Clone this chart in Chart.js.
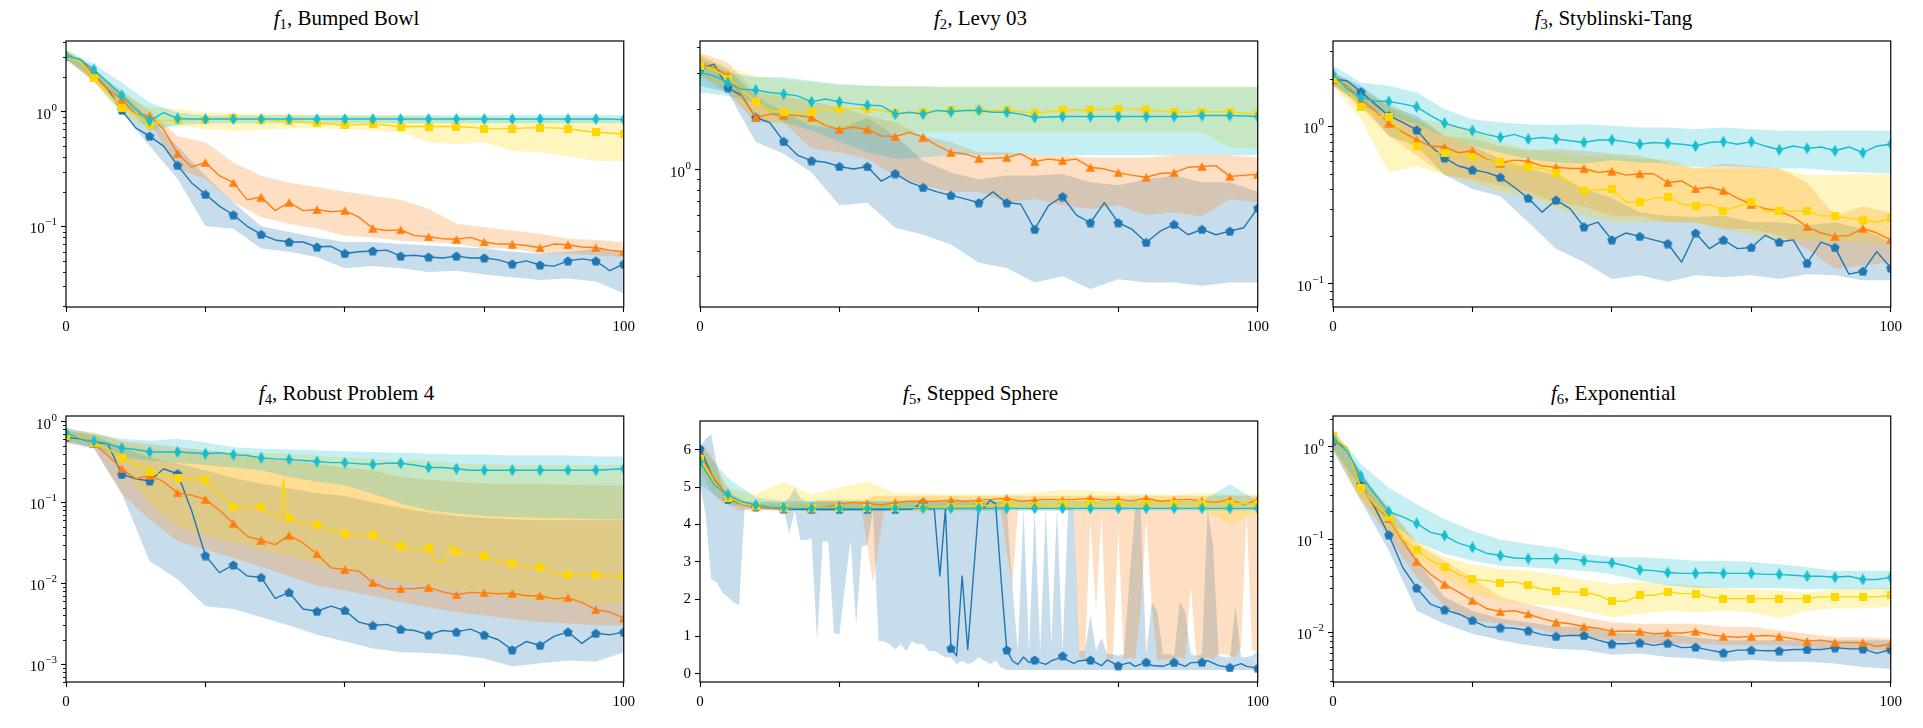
<!DOCTYPE html>
<html><head><meta charset="utf-8">
<script src="https://cdn.jsdelivr.net/npm/chart.js@4.4.1/dist/chart.umd.min.js"></script>
<style>
html,body{margin:0;padding:0;background:#fff;width:1923px;height:728px;overflow:hidden;}
canvas{position:absolute;}
.title{position:absolute;font-family:"Liberation Serif","DejaVu Serif",serif;font-size:21px;line-height:22px;color:#000;white-space:nowrap;transform:translateX(-50%);}
.title sub{font-size:70%;vertical-align:-0.3em;line-height:0;}
</style></head><body>
<script>
// ---------- x grids (iterations) ----------
const X_MEAN = [0,2.5,5,7.5,10,12.5,15,17.5,20,22.5,25,27.5,30,32.5,35,37.5,40,42.5,45,47.5,50,52.5,55,57.5,60,62.5,65,67.5,70,72.5,75,77.5,80,82.5,85,87.5,90,92.5,95,97.5,100];
const X_BAND = [0,5,10,15,20,25,30,35,40,45,50,55,60,65,70,75,80,85,90,95,100];
const X_FINE = [0,1,2,3,4,5,6,7,8,9,10,11,12,13,14,15,16,17,18,19,20,21,22,23,24,25,26,27,28,29,30,31,32,33,34,35,36,37,38,39,40,41,42,43,44,45,46,47,48,49,50,51,52,53,54,55,56,57,58,59,60,61,62,63,64,65,66,67,68,69,70,71,72,73,74,75,76,77,78,79,80,81,82,83,84,85,86,87,88,89,90,91,92,93,94,95,96,97,98,99,100];
const F4_YELLOW_X = [0,2.5,5,7.5,10,12.5,15,17.5,20,22.5,25,27.5,30,32.5,35,37.5,38.5,39,39.7,40,42.5,45,47.5,50,52.5,55,57.5,60,62.5,65,66.3,68,69,70,72.5,75,77.5,80,82.5,85,87.5,90,92.5,95,97.5,100];
const F5_BLUE_X = [0,2.5,5,7.5,10,12.5,15,20,25,30,35,38,40,41,42,43,44,45,46,47,48,49,50,51,52,53,54,55,56,57,58,59,60,61,62,63,64,65,66,67,68,70,72,73,75,77,78,80,81,83,85,87,88,90,91,93,95,97,98,100];

// ---------- f1 Bumped Bowl ----------
const f1BlueMean = [3.05,2.85,2.11,1.56,1.03,0.72,0.61,0.50,0.34,0.24,0.19,0.15,0.126,0.10,0.085,0.076,0.073,0.073,0.066,0.067,0.058,0.06,0.061,0.062,0.055,0.056,0.054,0.053,0.055,0.053,0.053,0.051,0.047,0.05,0.046,0.045,0.05,0.052,0.05,0.041,0.047];
const f1OrangeMean = [3.05,2.85,2.11,1.56,1.28,0.95,0.92,0.70,0.43,0.33,0.36,0.276,0.24,0.17,0.18,0.137,0.162,0.137,0.14,0.134,0.137,0.12,0.096,0.092,0.093,0.083,0.081,0.078,0.077,0.08,0.073,0.07,0.07,0.068,0.065,0.07,0.069,0.066,0.065,0.062,0.06];
const f1YellowMean = [3.05,2.76,1.98,1.46,1.08,0.95,0.76,0.83,0.85,0.85,0.85,0.87,0.87,0.86,0.85,0.84,0.82,0.81,0.79,0.78,0.76,0.77,0.78,0.76,0.74,0.74,0.74,0.74,0.74,0.73,0.71,0.71,0.71,0.72,0.72,0.72,0.71,0.68,0.66,0.65,0.635];
const f1CyanMean = [3.05,2.85,2.33,1.79,1.39,1.05,0.83,0.98,0.87,0.86,0.86,0.86,0.86,0.86,0.86,0.86,0.86,0.86,0.86,0.86,0.86,0.86,0.86,0.86,0.86,0.86,0.86,0.86,0.86,0.86,0.86,0.86,0.86,0.86,0.86,0.86,0.86,0.86,0.86,0.86,0.85];
const f1BlueHi = [3.37,2.33,1.46,0.86,0.50,0.276,0.162,0.10,0.089,0.08,0.073,0.073,0.07,0.068,0.066,0.064,0.06,0.058,0.06,0.064,0.06];
const f1BlueLo = [2.85,1.85,0.98,0.50,0.26,0.10,0.095,0.064,0.06,0.054,0.043,0.045,0.043,0.04,0.041,0.038,0.036,0.034,0.035,0.033,0.026];
const f1OrangeHi = [3.37,2.33,1.51,1.01,0.61,0.54,0.36,0.276,0.24,0.22,0.20,0.185,0.17,0.142,0.105,0.098,0.092,0.086,0.078,0.076,0.073];
const f1OrangeLo = [2.85,1.85,1.08,0.80,0.315,0.26,0.162,0.12,0.105,0.095,0.083,0.08,0.075,0.073,0.07,0.064,0.064,0.058,0.058,0.056,0.054];
const f1YellowHi = [3.37,2.33,1.46,1.08,1.05,0.98,0.97,0.95,0.95,0.93,0.92,0.92,0.92,0.905,0.89,0.89,0.87,0.86,0.86,0.86,0.86];
const f1YellowLo = [2.85,1.79,0.95,0.72,0.75,0.70,0.68,0.69,0.71,0.72,0.70,0.68,0.66,0.54,0.52,0.54,0.455,0.44,0.41,0.37,0.37];
const f1CyanHi = [3.48,2.58,1.79,1.20,0.98,0.92,0.93,0.93,0.93,0.93,0.93,0.93,0.93,0.93,0.93,0.93,0.93,0.93,0.93,0.93,0.93];
const f1CyanLo = [2.85,1.98,1.20,0.68,0.76,0.79,0.79,0.79,0.79,0.79,0.79,0.79,0.79,0.79,0.79,0.79,0.79,0.79,0.79,0.79,0.79];

// ---------- f2 Levy 03 ----------
const f2BlueMean = [3.13,3.31,2.54,2.31,1.81,1.71,1.38,1.18,1.11,1.09,1.04,1.01,1.04,0.88,0.96,0.87,0.82,0.78,0.75,0.72,0.69,0.78,0.69,0.68,0.51,0.67,0.74,0.60,0.55,0.69,0.55,0.51,0.44,0.50,0.54,0.48,0.51,0.48,0.50,0.52,0.65];
const f2OrangeMean = [3.31,3.19,2.90,2.31,1.81,1.88,1.86,1.85,1.81,1.65,1.58,1.62,1.58,1.47,1.46,1.53,1.45,1.32,1.22,1.20,1.14,1.14,1.15,1.20,1.10,1.13,1.11,1.13,1.03,1.01,0.97,0.94,0.92,0.96,0.97,1.03,1.04,1.05,0.93,0.94,0.95];
const f2YellowMean = [3.25,3.13,2.79,2.49,2.16,1.96,1.92,1.92,1.93,1.99,1.99,2.00,2.00,1.96,1.90,1.91,1.92,1.95,1.97,1.96,1.96,1.96,1.96,1.93,1.90,1.93,1.96,1.97,1.97,1.99,2.00,1.99,1.97,1.95,1.92,1.92,1.93,1.93,1.93,1.90,1.88];
const f2CyanMean = [3.01,2.90,2.69,2.49,2.47,2.40,2.36,2.31,2.16,2.23,2.16,2.11,2.08,2.07,1.88,1.92,1.88,1.96,1.93,1.96,1.96,1.92,1.92,1.88,1.81,1.82,1.83,1.83,1.83,1.83,1.83,1.83,1.83,1.83,1.83,1.83,1.85,1.85,1.85,1.84,1.83];
const f2BlueHi = [3.63,3.13,2.31,1.92,1.65,1.59,1.81,1.47,1.11,0.97,0.90,0.94,0.94,0.955,0.87,0.84,0.90,0.94,0.87,0.87,0.78];
const f2BlueLo = [2.59,2.40,1.37,1.20,0.97,0.67,0.69,0.52,0.48,0.43,0.35,0.33,0.28,0.30,0.26,0.29,0.28,0.28,0.27,0.28,0.28];
const f2OrangeHi = [3.77,3.37,2.40,2.31,2.17,2.03,1.85,1.71,1.47,1.37,1.22,1.22,1.18,1.18,1.15,1.15,1.15,1.18,1.18,1.18,1.15];
const f2OrangeLo = [2.90,2.40,1.71,1.71,1.27,1.22,1.13,0.94,0.84,0.78,0.78,0.69,0.72,0.67,0.64,0.67,0.60,0.62,0.59,0.72,0.69];
const f2YellowHi = [3.70,3.19,2.90,2.79,2.69,2.61,2.59,2.59,2.57,2.57,2.57,2.57,2.57,2.57,2.57,2.57,2.57,2.57,2.57,2.57,2.57];
const f2YellowLo = [2.90,2.45,1.78,1.68,1.65,1.56,1.53,1.53,1.53,1.53,1.53,1.53,1.53,1.53,1.53,1.53,1.53,1.53,1.53,1.29,1.27];
const f2CyanHi = [3.50,3.01,2.85,2.85,2.74,2.64,2.59,2.57,2.57,2.55,2.55,2.55,2.55,2.55,2.55,2.55,2.55,2.55,2.55,2.55,2.55];
const f2CyanLo = [2.40,2.31,2.15,1.71,1.56,1.37,1.22,1.13,1.15,1.18,1.18,1.18,1.18,1.18,1.18,1.18,1.18,1.18,1.18,1.18,1.18];

// ---------- f3 Styblinski-Tang ----------
const f3BlueMean = [2.00,1.95,1.66,1.39,1.17,1.06,0.95,0.75,0.63,0.56,0.53,0.51,0.475,0.41,0.35,0.285,0.34,0.30,0.23,0.246,0.19,0.21,0.20,0.19,0.18,0.137,0.21,0.167,0.19,0.167,0.17,0.203,0.184,0.19,0.135,0.184,0.17,0.115,0.12,0.16,0.126];
const f3OrangeMean = [2.00,1.81,1.49,1.26,1.05,0.92,0.82,0.75,0.74,0.68,0.70,0.62,0.585,0.61,0.60,0.56,0.55,0.54,0.54,0.51,0.52,0.49,0.50,0.50,0.44,0.45,0.40,0.41,0.39,0.35,0.32,0.30,0.29,0.265,0.23,0.21,0.20,0.203,0.225,0.21,0.19];
const f3YellowMean = [2.00,1.73,1.33,1.17,1.14,0.87,0.75,0.68,0.675,0.66,0.64,0.61,0.59,0.56,0.55,0.54,0.505,0.44,0.39,0.395,0.40,0.33,0.33,0.35,0.355,0.32,0.31,0.32,0.29,0.31,0.33,0.29,0.29,0.29,0.29,0.27,0.27,0.26,0.255,0.246,0.26];
const f3CyanMean = [2.15,1.73,1.53,1.45,1.44,1.39,1.33,1.17,1.05,0.985,0.94,0.89,0.85,0.89,0.83,0.85,0.83,0.81,0.79,0.82,0.82,0.80,0.77,0.79,0.78,0.77,0.75,0.79,0.80,0.77,0.80,0.75,0.71,0.75,0.725,0.74,0.70,0.74,0.68,0.75,0.77];
const f3BlueHi = [2.20,1.81,1.35,1.17,0.87,0.75,0.62,0.54,0.49,0.40,0.35,0.285,0.27,0.265,0.27,0.246,0.246,0.235,0.246,0.223,0.184];
const f3BlueLo = [1.81,1.42,0.87,0.75,0.49,0.40,0.36,0.246,0.167,0.137,0.107,0.113,0.103,0.113,0.11,0.113,0.107,0.115,0.113,0.105,0.105];
const f3OrangeHi = [2.20,1.73,1.32,1.11,0.87,0.83,0.75,0.70,0.72,0.70,0.67,0.65,0.59,0.54,0.58,0.56,0.54,0.44,0.27,0.31,0.285];
const f3OrangeLo = [1.81,1.32,0.87,0.65,0.49,0.46,0.42,0.38,0.33,0.31,0.27,0.27,0.246,0.246,0.223,0.223,0.203,0.167,0.124,0.13,0.137];
const f3YellowHi = [2.20,1.64,1.42,1.11,1.06,0.96,0.79,0.72,0.68,0.65,0.65,0.62,0.62,0.54,0.54,0.54,0.54,0.49,0.49,0.50,0.49];
const f3YellowLo = [1.81,1.11,0.51,0.56,0.49,0.44,0.38,0.36,0.30,0.27,0.246,0.246,0.246,0.246,0.223,0.203,0.19,0.19,0.184,0.184,0.176];
const f3CyanHi = [2.43,1.90,1.81,1.64,1.29,1.11,1.06,1.03,1.02,1.03,1.01,0.985,0.985,0.96,0.985,0.96,0.94,0.94,0.94,0.94,0.94];
const f3CyanLo = [1.90,1.35,1.17,1.03,0.87,0.75,0.68,0.62,0.59,0.58,0.61,0.59,0.58,0.55,0.56,0.55,0.54,0.54,0.52,0.51,0.50];

// ---------- f4 Robust Problem 4 ----------
const f4BlueMean = [0.64,0.61,0.55,0.53,0.222,0.196,0.184,0.26,0.226,0.08,0.022,0.0135,0.0168,0.0123,0.0118,0.0065,0.0077,0.0048,0.0045,0.0052,0.0046,0.0033,0.0030,0.0031,0.0027,0.0026,0.0023,0.0026,0.0025,0.0027,0.0023,0.0020,0.0015,0.0019,0.0017,0.0022,0.0025,0.0018,0.0024,0.0023,0.0025];
const f4OrangeMean = [0.67,0.64,0.53,0.38,0.26,0.196,0.216,0.18,0.131,0.123,0.109,0.08,0.055,0.038,0.034,0.03,0.039,0.0315,0.023,0.0155,0.0148,0.0141,0.0102,0.0086,0.0085,0.0086,0.0089,0.0078,0.0072,0.0077,0.0076,0.0074,0.0075,0.0070,0.0070,0.0064,0.0066,0.0058,0.0047,0.0044,0.0037];
const f4YellowMean = [0.67,0.64,0.55,0.46,0.355,0.29,0.24,0.216,0.20,0.196,0.19,0.129,0.088,0.088,0.087,0.068,0.067,0.196,0.067,0.064,0.055,0.053,0.046,0.041,0.040,0.039,0.0315,0.029,0.026,0.027,0.0187,0.0187,0.030,0.024,0.023,0.0216,0.0187,0.0176,0.016,0.016,0.013,0.0126,0.0126,0.0126,0.0123,0.012];
const f4CyanMean = [0.73,0.61,0.57,0.53,0.47,0.45,0.42,0.42,0.42,0.41,0.40,0.41,0.39,0.38,0.355,0.345,0.34,0.33,0.32,0.31,0.31,0.30,0.295,0.305,0.305,0.29,0.27,0.27,0.26,0.25,0.25,0.25,0.25,0.25,0.25,0.25,0.25,0.25,0.25,0.255,0.26];
const f4BlueHi = [0.77,0.67,0.48,0.36,0.30,0.25,0.20,0.17,0.15,0.13,0.12,0.10,0.085,0.075,0.068,0.064,0.062,0.06,0.06,0.06,0.06];
const f4BlueLo = [0.55,0.46,0.129,0.0187,0.0112,0.0052,0.0048,0.0038,0.0030,0.0023,0.0019,0.00156,0.0014,0.00137,0.00129,0.00117,0.00093,0.00102,0.00111,0.00107,0.0014];
const f4OrangeHi = [0.81,0.73,0.58,0.53,0.48,0.44,0.40,0.36,0.33,0.30,0.27,0.25,0.206,0.19,0.18,0.171,0.168,0.168,0.165,0.163,0.163];
const f4OrangeLo = [0.55,0.48,0.129,0.061,0.033,0.026,0.0205,0.016,0.0123,0.0093,0.0081,0.0070,0.0058,0.0050,0.0044,0.0040,0.0036,0.0033,0.0032,0.0030,0.0030];
const f4YellowHi = [0.81,0.70,0.55,0.46,0.44,0.43,0.42,0.41,0.40,0.38,0.36,0.345,0.33,0.33,0.30,0.30,0.29,0.29,0.29,0.29,0.29];
const f4YellowLo = [0.58,0.53,0.30,0.097,0.050,0.038,0.0315,0.026,0.0216,0.0179,0.0148,0.0123,0.0102,0.0093,0.0081,0.0074,0.0067,0.0061,0.0058,0.0055,0.0055];
const f4CyanHi = [0.84,0.70,0.61,0.58,0.61,0.55,0.48,0.46,0.45,0.44,0.43,0.42,0.41,0.40,0.39,0.39,0.38,0.38,0.38,0.37,0.37];
const f4CyanLo = [0.58,0.48,0.36,0.33,0.31,0.29,0.27,0.25,0.206,0.18,0.163,0.129,0.097,0.08,0.073,0.068,0.066,0.064,0.063,0.062,0.062];

// ---------- f5 Stepped Sphere ----------
const f5BlueMean = [6.03,5.2,4.67,4.55,4.47,4.43,4.41,4.40,4.40,4.40,4.40,4.41,4.59,4.42,4.42,2.62,4.42,0.68,0.48,2.62,0.65,2.6,4.54,4.45,4.65,4.55,2.5,0.64,0.35,0.25,0.45,0.3,0.37,0.3,0.25,0.35,0.4,0.48,0.35,0.28,0.35,0.37,0.22,0.37,0.22,0.3,0.2,0.31,0.22,0.2,0.31,0.2,0.3,0.31,0.35,0.22,0.17,0.27,0.2,0.15];
const f5OrangeMean = [5.85,5.24,4.76,4.56,4.47,4.44,4.43,4.43,4.43,4.47,4.54,4.59,4.56,4.52,4.59,4.62,4.62,4.62,4.65,4.62,4.65,4.67,4.70,4.62,4.65,4.67,4.65,4.67,4.70,4.65,4.67,4.63,4.70,4.62,4.65,4.67,4.63,4.59,4.67,4.52,4.67];
const f5YellowMean = [5.76,5.15,4.72,4.56,4.50,4.47,4.45,4.44,4.44,4.44,4.44,4.44,4.44,4.44,4.44,4.45,4.45,4.46,4.48,4.49,4.50,4.51,4.52,4.51,4.50,4.52,4.54,4.54,4.56,4.55,4.54,4.54,4.54,4.55,4.56,4.55,4.54,4.55,4.56,4.55,4.54];
const f5CyanMean = [5.68,5.07,4.80,4.61,4.52,4.47,4.45,4.43,4.43,4.43,4.43,4.43,4.43,4.43,4.43,4.43,4.43,4.43,4.43,4.43,4.43,4.43,4.43,4.43,4.43,4.43,4.43,4.43,4.43,4.43,4.43,4.43,4.43,4.43,4.43,4.43,4.43,4.43,4.43,4.43,4.43];
const f5BlueHi = [6.07,6.29,6.42,5.59,4.98,4.80,4.67,4.61,
  4.61,4.61,4.61,4.61,4.61,4.61,4.61,4.61,
  4.70,4.99,4.70,
  4.61,4.61,4.61,4.61,4.61,4.61,4.61,4.61,4.61,4.61,4.61,4.61,
  4.61,4.61,4.61,4.61,4.61,4.61,4.61,4.61,4.61,4.61,4.61,4.61,
  4.61,4.61,4.61,4.61,4.61,4.61,4.61,4.61,4.61,4.61,4.61,4.61,
  4.41,2.36,0.61,4.41,0.61,4.41,0.61,4.41,0.79,4.41,
  0.61,4.41,4.41,0.61,0.61,1.57,0.61,0.96,0.52,0.52,
  0.48,0.52,2.53,4.41,4.41,0.52,1.92,1.66,0.52,0.52,
  0.48,1.92,1.66,0.52,0.48,0.52,4.41,3.41,0.48,0.44,
  0.44,1.83,0.44,0.44,0.48,0.61];
const f5BlueLo = [5.07,4.28,2.53,2.45,2.18,2.05,1.92,1.83,
  4.41,4.41,4.41,4.41,4.41,4.41,4.41,4.41,
  3.76,4.37,3.58,3.58,3.62,0.87,3.54,3.54,1.09,1.05,
  2.36,3.58,1.31,3.41,3.45,4.37,0.87,0.87,0.79,0.66,
  0.79,0.61,0.87,0.79,0.79,0.61,0.61,0.52,0.44,0.44,
  0.26,0.35,0.26,0.31,0.44,0.35,0.26,0.35,0.17,
  0.1,0.1,0.1,0.1,0.1,0.1,0.1,0.1,0.1,0.1,
  0.1,0.1,0.1,0.1,0.1,0.1,0.1,0.1,0.1,0.1,
  0.1,0.1,0.1,0.1,0.1,0.1,0.1,0.1,0.1,0.1,
  0.1,0.1,0.1,0.1,0.1,0.1,0.1,0.1,0.1,0.1,
  0.1,0.1,0.1,0.1,0.1,0.1];
const f5OrangeHi = [6.11,6.03,5.85,5.59,5.24,4.98,4.80,4.72,4.65,4.61,4.59,
  4.56,4.56,4.56,4.56,4.56,4.56,4.56,4.56,4.56,4.56,
  4.67,4.67,4.67,4.67,4.67,4.67,4.67,4.67,4.67,4.67,
  4.77,4.77,4.77,4.77,4.77,4.77,4.77,4.77,4.77,4.77,
  4.77,4.77,4.77,4.77,4.77,4.77,4.77,4.77,4.77,4.77,
  4.77,4.77,4.77,4.77,4.77,4.77,4.77,4.77,4.77,4.77,
  4.77,4.77,4.77,4.77,4.77,4.77,4.77,4.77,4.77,4.77,
  4.77,4.77,4.77,4.77,4.77,4.77,4.77,4.77,4.77,4.77,
  4.77,4.77,4.77,4.77,4.77,4.77,4.77,4.77,4.77,4.77,
  4.77,4.77,4.77,4.77,4.77,4.77,4.77,4.77,4.77,4.77];
const f5OrangeLo = [5.50,5.15,4.89,4.72,4.59,4.54,4.45,
  4.37,4.37,4.37,4.37,4.37,4.37,4.37,4.37,4.37,4.37,4.37,4.37,4.37,4.37,4.37,4.37,4.37,4.37,4.37,4.37,4.37,4.37,4.37,
  3.41,2.45,3.41,
  4.37,4.37,4.37,4.37,4.37,4.37,4.37,4.37,4.37,4.37,4.37,4.37,4.37,4.37,4.37,4.37,4.37,4.37,4.37,4.37,4.37,4.37,
  3.23,2.36,
  4.37,4.37,4.37,4.37,4.37,4.37,4.37,4.37,4.37,4.37,4.37,
  0.44,0.39,4.10,1.66,4.28,0.39,0.39,3.84,0.39,0.44,
  0.39,1.66,4.10,1.83,0.35,0.39,0.39,0.39,0.44,0.39,
  2.36,0.44,0.39,0.44,0.39,0.52,0.52,0.48,0.44,0.70,
  4.28,0.61,0.61];
const f5YellowHi = [6.11,4.98,4.80,5.15,4.80,4.98,5.15,4.85,4.83,4.80,4.80,4.80,4.85,4.93,4.91,4.85,4.80,4.80,4.85,4.80,4.80];
const f5YellowLo = [5.50,4.59,4.45,4.41,4.41,4.41,4.41,4.41,4.41,4.41,4.41,4.41,4.41,4.41,4.41,4.41,4.41,4.41,4.41,4.02,4.28];
const f5CyanHi = [6.11,5.24,4.72,4.63,4.63,4.63,4.63,4.63,4.63,4.63,4.63,4.63,4.63,4.63,4.63,4.63,4.63,4.63,4.63,5.07,4.63];
const f5CyanLo = [5.07,4.54,4.41,4.37,4.37,4.37,4.37,4.37,4.37,4.37,4.37,4.37,4.37,4.37,4.37,4.37,4.37,4.37,4.37,4.37,4.37];

// ---------- f6 Exponential ----------
const f6BlueMean = [1.15,0.975,0.39,0.22,0.112,0.050,0.030,0.020,0.0175,0.0157,0.0134,0.0114,0.0112,0.011,0.0104,0.0094,0.009,0.0092,0.0092,0.0082,0.0075,0.0075,0.0077,0.0072,0.0076,0.0068,0.0069,0.0064,0.006,0.0064,0.0064,0.0063,0.0063,0.0065,0.0065,0.0065,0.0068,0.0066,0.0066,0.0059,0.0065];
const f6OrangeMean = [1.20,0.975,0.36,0.23,0.166,0.096,0.058,0.042,0.033,0.027,0.022,0.018,0.0166,0.017,0.0157,0.014,0.0128,0.0123,0.0115,0.011,0.0102,0.0103,0.0102,0.0096,0.0098,0.0098,0.0102,0.0094,0.009,0.0088,0.009,0.0092,0.009,0.0085,0.008,0.0082,0.0077,0.0077,0.0077,0.007,0.0075];
const f6YellowMean = [1.30,0.975,0.36,0.24,0.175,0.10,0.077,0.059,0.051,0.042,0.037,0.036,0.034,0.035,0.032,0.029,0.028,0.027,0.027,0.025,0.0215,0.0215,0.025,0.025,0.027,0.026,0.026,0.024,0.023,0.023,0.023,0.023,0.023,0.023,0.023,0.024,0.024,0.024,0.024,0.024,0.025];
const f6CyanMean = [1.20,0.90,0.48,0.31,0.20,0.175,0.149,0.119,0.11,0.091,0.082,0.071,0.067,0.063,0.062,0.062,0.062,0.062,0.059,0.057,0.056,0.052,0.047,0.046,0.044,0.043,0.043,0.044,0.043,0.043,0.043,0.042,0.042,0.041,0.040,0.040,0.039,0.040,0.037,0.037,0.039];
const f6BlueHi = [1.47,0.55,0.187,0.062,0.024,0.017,0.014,0.0128,0.0114,0.0114,0.01,0.0096,0.0096,0.0088,0.0082,0.0082,0.0082,0.0082,0.0082,0.0082,0.0082];
const f6BlueLo = [0.90,0.26,0.076,0.017,0.0123,0.0096,0.0082,0.0072,0.0066,0.0064,0.0057,0.0059,0.0054,0.0052,0.0048,0.005,0.0048,0.0048,0.0046,0.0042,0.004];
const f6OrangeHi = [1.47,0.50,0.22,0.089,0.059,0.039,0.024,0.020,0.017,0.0145,0.0128,0.0123,0.0123,0.0123,0.0114,0.0114,0.0104,0.0096,0.0088,0.0088,0.0085];
const f6OrangeLo = [0.975,0.28,0.105,0.039,0.019,0.0134,0.0123,0.0114,0.0096,0.0088,0.0082,0.0078,0.0075,0.0075,0.0072,0.0072,0.0072,0.0069,0.0066,0.0064,0.0064];
const f6YellowHi = [1.54,0.50,0.22,0.096,0.064,0.054,0.048,0.046,0.041,0.037,0.033,0.035,0.033,0.032,0.030,0.029,0.028,0.027,0.029,0.030,0.030];
const f6YellowLo = [0.975,0.26,0.124,0.062,0.039,0.026,0.022,0.020,0.019,0.017,0.0145,0.0157,0.017,0.0164,0.017,0.0164,0.014,0.017,0.018,0.018,0.019];
const f6CyanHi = [1.54,0.65,0.36,0.24,0.166,0.124,0.10,0.089,0.082,0.070,0.064,0.064,0.062,0.059,0.059,0.057,0.054,0.050,0.046,0.046,0.046];
const f6CyanLo = [0.94,0.36,0.159,0.093,0.070,0.059,0.052,0.050,0.048,0.046,0.042,0.036,0.032,0.030,0.030,0.030,0.030,0.029,0.029,0.029,0.029];

// ---------- titles / axis ticks ----------
const TITLES = [['1','Bumped Bowl'],['2','Levy 03'],['3','Styblinski-Tang'],['4','Robust Problem 4'],['5','Stepped Sphere'],['6','Exponential']];
const X_TICKS = [0,25,50,75,100];
const X_TICK_LABELS = {0:'0',100:'100'};
const Y_MAJORS = [[0.1,1],[1],[0.1,1],[0.001,0.01,0.1,1],[0,1,2,3,4,5,6],[0.01,0.1,1]];

// ---------- styling ----------
const FONT = '"Liberation Serif","DejaVu Serif",serif';
const COLORS = {blue:'#1f77b4', orange:'#ff7f0e', yellow:'#ffd700', cyan:'#17becf'};
const KEYS = ['blue','orange','yellow','cyan'];
const PW = 561, PH = 266;
const COL_LEFT = [66,700,1333], ROW_TOP = [41,416];
const PAD_L = 62, PAD_T = 8, PAD_R = 14, PAD_B = 30;
const TICK_LEN = 5, LABEL_GAP = 4;

function rgba(hex,a){const n=parseInt(hex.slice(1),16);return 'rgba('+((n>>16)&255)+','+((n>>8)&255)+','+(n&255)+','+a+')';}
function markerCanvas(kind,color){
  const c=document.createElement('canvas');
  let w,h;
  if(kind==='pent'){w=10;h=10;} else if(kind==='tri'){w=10;h=9;} else if(kind==='sq'){w=8;h=8;} else {w=7;h=12;}
  c.width=w;c.height=h;
  const g=c.getContext('2d');g.fillStyle=color;g.beginPath();
  if(kind==='pent'){const r=4.9;for(let i=0;i<5;i++){const a=-Math.PI/2+i*2*Math.PI/5;const px=w/2+r*Math.cos(a),py=h/2+0.5+r*Math.sin(a);if(i)g.lineTo(px,py);else g.moveTo(px,py);}}
  else if(kind==='tri'){g.moveTo(w/2,0.3);g.lineTo(w-0.3,h-0.3);g.lineTo(0.3,h-0.3);}
  else if(kind==='sq'){g.rect(0,0,w,h);}
  else {g.moveTo(w/2,0);g.lineTo(w,h/2);g.lineTo(w/2,h);g.lineTo(0,h/2);}
  g.closePath();g.fill();
  return c;
}
const MARKS = {blue:markerCanvas('pent',COLORS.blue), orange:markerCanvas('tri',COLORS.orange), yellow:markerCanvas('sq',COLORS.yellow), cyan:markerCanvas('dia',COLORS.cyan)};

function pts(xs,ys,name){
  if(xs.length!==ys.length) console.error('length mismatch '+name+': '+xs.length+' vs '+ys.length);
  return xs.map((x,i)=>({x:x,y:ys[i]}));
}
function isMark(x){return Number.isInteger(x) && x%5===0;}

const PANELS = [
  {log:true, min:0.0198, max:4.12, s:{
    blue:[X_MEAN,f1BlueMean,X_BAND,f1BlueLo,f1BlueHi], orange:[X_MEAN,f1OrangeMean,X_BAND,f1OrangeLo,f1OrangeHi],
    yellow:[X_MEAN,f1YellowMean,X_BAND,f1YellowLo,f1YellowHi], cyan:[X_MEAN,f1CyanMean,X_BAND,f1CyanLo,f1CyanHi]}},
  {log:true, min:0.212, max:4.3, s:{
    blue:[X_MEAN,f2BlueMean,X_BAND,f2BlueLo,f2BlueHi], orange:[X_MEAN,f2OrangeMean,X_BAND,f2OrangeLo,f2OrangeHi],
    yellow:[X_MEAN,f2YellowMean,X_BAND,f2YellowLo,f2YellowHi], cyan:[X_MEAN,f2CyanMean,X_BAND,f2CyanLo,f2CyanHi]}},
  {log:true, min:0.0711, max:3.49, s:{
    blue:[X_MEAN,f3BlueMean,X_BAND,f3BlueLo,f3BlueHi], orange:[X_MEAN,f3OrangeMean,X_BAND,f3OrangeLo,f3OrangeHi],
    yellow:[X_MEAN,f3YellowMean,X_BAND,f3YellowLo,f3YellowHi], cyan:[X_MEAN,f3CyanMean,X_BAND,f3CyanLo,f3CyanHi]}},
  {log:true, min:0.00064, max:1.17, s:{
    blue:[X_MEAN,f4BlueMean,X_BAND,f4BlueLo,f4BlueHi], orange:[X_MEAN,f4OrangeMean,X_BAND,f4OrangeLo,f4OrangeHi],
    yellow:[F4_YELLOW_X,f4YellowMean,X_BAND,f4YellowLo,f4YellowHi], cyan:[X_MEAN,f4CyanMean,X_BAND,f4CyanLo,f4CyanHi]}},
  {log:false, min:-0.22, max:6.77, s:{
    blue:[F5_BLUE_X,f5BlueMean,X_FINE,f5BlueLo,f5BlueHi], orange:[X_MEAN,f5OrangeMean,X_FINE,f5OrangeLo,f5OrangeHi],
    yellow:[X_MEAN,f5YellowMean,X_BAND,f5YellowLo,f5YellowHi], cyan:[X_MEAN,f5CyanMean,X_BAND,f5CyanLo,f5CyanHi]}},
  {log:true, min:0.0029, max:2.14, s:{
    blue:[X_MEAN,f6BlueMean,X_BAND,f6BlueLo,f6BlueHi], orange:[X_MEAN,f6OrangeMean,X_BAND,f6OrangeLo,f6OrangeHi],
    yellow:[X_MEAN,f6YellowMean,X_BAND,f6YellowLo,f6YellowHi], cyan:[X_MEAN,f6CyanMean,X_BAND,f6CyanLo,f6CyanHi]}}
];

const framePlugin = {
  id:'frame',
  afterDraw(chart){
    const ctx=chart.ctx, a=chart.chartArea;
    ctx.save();
    const y=chart.scales.y;
    if(y.type==='logarithmic'){
      ctx.strokeStyle='#000';ctx.lineWidth=0.9;ctx.beginPath();
      for(let e=Math.floor(Math.log10(y.min));e<=Math.ceil(Math.log10(y.max));e++){
        for(let m=2;m<=9;m++){
          const v=m*Math.pow(10,e);
          if(v<y.min||v>y.max) continue;
          const py=Math.round(y.getPixelForValue(v))+0.5;
          ctx.moveTo(a.left,py);ctx.lineTo(a.left-3,py);
        }
      }
      ctx.stroke();
      ctx.fillStyle='#000';ctx.textAlign='right';ctx.textBaseline='alphabetic';
      const xr=a.left-TICK_LEN-LABEL_GAP;
      y.ticks.forEach(t=>{
        const py=y.getPixelForValue(t.value);
        const e=Math.round(Math.log10(t.value));
        const expStr=(e<0?'\u2212':'')+Math.abs(e);
        ctx.font='11px '+FONT;
        const ew=ctx.measureText(expStr).width;
        ctx.fillText(expStr,xr,py-1);
        ctx.font='15px '+FONT;
        ctx.fillText('10',xr-ew-0.5,py+7);
      });
    }
    ctx.strokeStyle='#000';ctx.lineWidth=1.2;
    ctx.strokeRect(a.left,a.top,a.right-a.left,a.bottom-a.top);
    ctx.restore();
  }
};

Chart.defaults.font.family = FONT;

PANELS.forEach((p,pi)=>{
  const col=pi%3,row=Math.floor(pi/3);
  const L=COL_LEFT[col],T=ROW_TOP[row];
  const cv=document.createElement('canvas');
  const W=PW+PAD_L+PAD_R,H=PH+PAD_T+PAD_B;
  cv.width=W;cv.height=H;cv.style.width=W+'px';cv.style.height=H+'px';
  cv.style.left=(L-PAD_L)+'px';cv.style.top=(T-PAD_T)+'px';
  document.body.appendChild(cv);
  const t=document.createElement('div');t.className='title';
  t.innerHTML='<i>f</i><sub>'+TITLES[pi][0]+'</sub>, '+TITLES[pi][1];
  t.style.left=(L+PW/2)+'px';t.style.top=(T-34)+'px';
  document.body.appendChild(t);

  const datasets=[];
  KEYS.forEach((k,i)=>{
    const s=p.s[k];
    const loIndex=datasets.length+1;
    datasets.push({data:pts(s[2],s[4],'hi'+pi+k),fill:loIndex,backgroundColor:rgba(COLORS[k],0.25),borderColor:'rgba(0,0,0,0)',borderWidth:0,pointRadius:0,order:110-i});
    datasets.push({data:pts(s[2],s[3],'lo'+pi+k),fill:false,borderColor:'rgba(0,0,0,0)',borderWidth:0,pointRadius:0,order:110-i});
  });
  KEYS.forEach((k,i)=>{
    const s=p.s[k];
    datasets.push({data:pts(s[0],s[1],'mean'+pi+k),fill:false,borderColor:COLORS[k],borderWidth:1.4,borderJoinStyle:'round',
      pointStyle:MARKS[k],pointRadius:c=>(c.raw&&isMark(c.raw.x))?4:0,pointHoverRadius:0,order:10-i});
  });
  const majors=Y_MAJORS[pi];
  const tickFont={family:FONT,size:15};
  new Chart(cv,{
    type:'line',
    data:{datasets:datasets},
    options:{
      responsive:false,animation:false,devicePixelRatio:1,events:[],
      layout:{padding:{left:0,right:PAD_R,top:PAD_T,bottom:0}},
      plugins:{legend:{display:false},tooltip:{enabled:false}},
      elements:{line:{tension:0}},
      scales:{
        x:{type:'linear',min:0,max:100,
          afterBuildTicks:s=>{s.ticks=X_TICKS.map(v=>({value:v}));},
          afterFit:s=>{s.height=PAD_B;},
          ticks:{autoSkip:false,maxRotation:0,color:'#000',font:tickFont,padding:6,callback:v=>X_TICK_LABELS[v]||''},
          grid:{drawOnChartArea:false,drawTicks:true,tickLength:TICK_LEN,tickColor:'#000',tickWidth:1.1},
          border:{display:false}},
        y:{type:p.log?'logarithmic':'linear',min:p.min,max:p.max,
          afterBuildTicks:s=>{s.ticks=majors.map(v=>({value:v}));},
          afterFit:s=>{s.width=PAD_L;},
          ticks:{display:!p.log,autoSkip:false,color:'#000',font:tickFont,padding:LABEL_GAP,callback:v=>String(v)},
          grid:{drawOnChartArea:false,drawTicks:true,tickLength:TICK_LEN,tickColor:'#000',tickWidth:1.1},
          border:{display:false}}
      }
    },
    plugins:[framePlugin]
  });
});
</script>
</body></html>
